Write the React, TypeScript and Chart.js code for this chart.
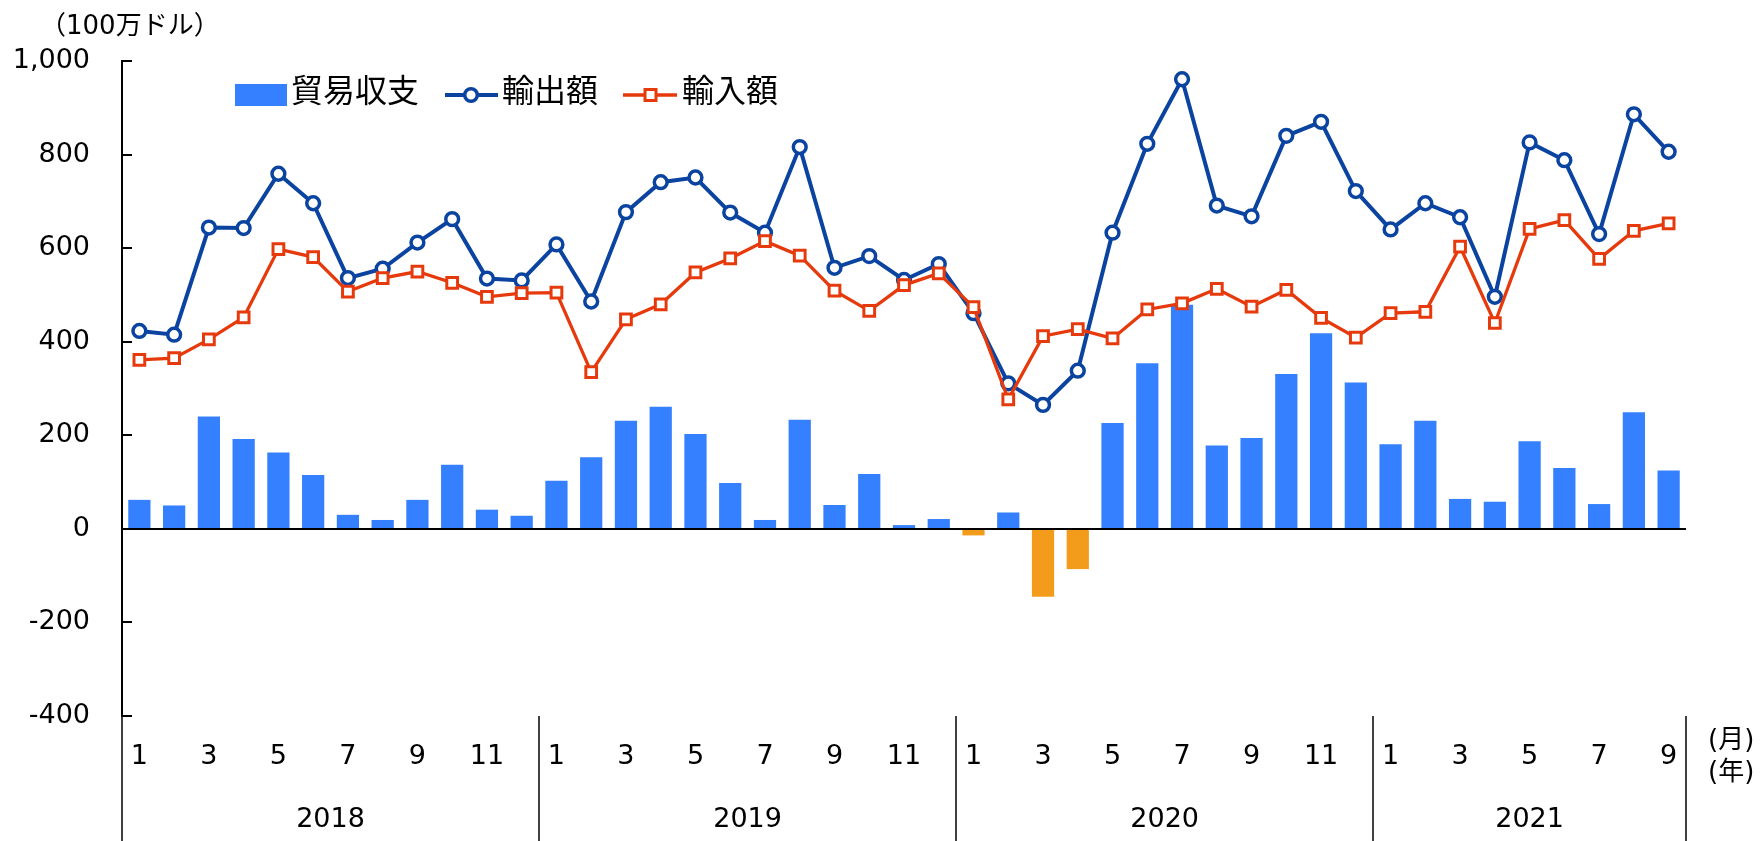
import React, { useEffect, useRef } from 'react';
import { Chart, registerables } from 'chart.js';

Chart.register(...registerables);

const FONT = "'DejaVu Sans', 'Noto Sans CJK JP', sans-serif";
const JP_FONT = "'Noto Sans CJK JP', 'Noto Sans', sans-serif";

const categories = [
  '2018-01', '2018-02', '2018-03', '2018-04', '2018-05', '2018-06', '2018-07', '2018-08', '2018-09', '2018-10', '2018-11', '2018-12',
  '2019-01', '2019-02', '2019-03', '2019-04', '2019-05', '2019-06', '2019-07', '2019-08', '2019-09', '2019-10', '2019-11', '2019-12',
  '2020-01', '2020-02', '2020-03', '2020-04', '2020-05', '2020-06', '2020-07', '2020-08', '2020-09', '2020-10', '2020-11', '2020-12',
  '2021-01', '2021-02', '2021-03', '2021-04', '2021-05', '2021-06', '2021-07', '2021-08', '2021-09',
];

const monthTickLabels = [
  '1', '', '3', '', '5', '', '7', '', '9', '', '11', '',
  '1', '', '3', '', '5', '', '7', '', '9', '', '11', '',
  '1', '', '3', '', '5', '', '7', '', '9', '', '11', '',
  '1', '', '3', '', '5', '', '7', '', '9',
];

const yearLabels = ['2018', '2019', '2020', '2021'];
const yearStartIndex = [0, 12, 24, 36];

const yTickValues = [-400, -200, 0, 200, 400, 600, 800, 1000];
const yTickTexts = ['-400', '-200', '0', '200', '400', '600', '800', '1,000'];

const tradeBalance = [
  62, 50, 240, 192, 163, 115, 30, 19, 62, 137, 41, 28,
  103, 153, 231, 261, 203, 98, 19, 233, 51, 117, 8, 21,
  -14, 35, -145, -86, 226, 354, 479, 178, 194, 331, 418, 313,
  181, 231, 64, 58, 187, 130, 53, 249, 125,
];

const exportValues = [
  423, 415, 644, 643, 759, 696, 536, 556, 612, 662, 535, 531,
  608, 486, 677, 741, 751, 676, 633, 816, 558, 583, 532, 566,
  461, 311, 265, 338, 633, 823, 961, 691, 668, 840, 870, 722,
  640, 696, 666, 496, 826, 788, 630, 886, 806,
];

const importValues = [
  361, 365, 405, 452, 598, 581, 507, 536, 550, 526, 496, 504,
  505, 335, 448, 480, 548, 578, 615, 584, 509, 466, 521, 546,
  474, 277, 412, 427, 407, 469, 482, 513, 475, 511, 451, 409,
  461, 464, 603, 440, 641, 660, 577, 637, 653,
];

const seriesNames = ['貿易収支', '輸出額', '輸入額'];
const unitLabel = '（100万ドル）';
const monthUnit = '(月)';
const yearUnit = '(年)';

const BAR_POS = '#3480FF';
const BAR_NEG = '#F39C1B';
const EXPORT_COLOR = '#0A44A0';
const IMPORT_COLOR = '#E63A0C';

const decorPlugin = {
  id: 'decor',
  afterDatasetsDraw(chart: any) {
    const { ctx, chartArea: area } = chart;
    const y = chart.scales.y;
    ctx.save();
    ctx.strokeStyle = '#000';
    ctx.lineWidth = 2;
    const y0 = Math.round(y.getPixelForValue(0));
    ctx.beginPath();
    ctx.moveTo(area.left, y0);
    ctx.lineTo(area.right, y0);
    ctx.stroke();
    ctx.restore();
  },
  afterDraw(chart: any) {
    const { ctx, chartArea: area } = chart;
    const x = chart.scales.x;
    const y = chart.scales.y;
    const H = chart.height;
    ctx.save();
    ctx.strokeStyle = '#000';
    ctx.fillStyle = '#000';

    // inner y ticks
    ctx.lineWidth = 2;
    y.ticks.forEach((t: any) => {
      const py = Math.round(y.getPixelForValue(t.value));
      ctx.beginPath();
      ctx.moveTo(area.left, py);
      ctx.lineTo(area.left + 10, py);
      ctx.stroke();
    });

    // category geometry
    const half = (x.getPixelForValue(1) - x.getPixelForValue(0)) / 2;
    const leftEdge = (i: number) => x.getPixelForValue(i) - half;
    const rightEdge = (i: number) => x.getPixelForValue(i) + half;

    // vertical separators below the plot
    ctx.lineWidth = 1.5;
    const seps = [...yearStartIndex.map((i) => leftEdge(i)), rightEdge(categories.length - 1)];
    seps.forEach((sx) => {
      ctx.beginPath();
      ctx.moveTo(Math.round(sx), area.bottom);
      ctx.lineTo(Math.round(sx), H);
      ctx.stroke();
    });

    // month labels
    ctx.font = `27px ${FONT}`;
    ctx.textAlign = 'center';
    ctx.textBaseline = 'middle';
    monthTickLabels.forEach((lab, i) => {
      if (lab) ctx.fillText(lab, x.getPixelForValue(i), 757);
    });

    // year labels
    yearLabels.forEach((lab, k) => {
      const s = yearStartIndex[k];
      const e = k + 1 < yearStartIndex.length ? yearStartIndex[k + 1] - 1 : categories.length - 1;
      const cx = (leftEdge(s) + rightEdge(e)) / 2;
      ctx.fillText(lab, cx, 820);
    });

    // unit labels right
    ctx.textAlign = 'left';
    ctx.font = `26px ${FONT}`;
    ctx.fillText(monthUnit, 1708, 741);
    ctx.fillText(yearUnit, 1708, 773);

    // y unit label
    ctx.font = `26px ${FONT}`;
    ctx.fillText(unitLabel, 40, 27);

    // legend
    const ly = 95;
    ctx.font = `32px ${JP_FONT}`;
    ctx.textBaseline = 'middle';
    ctx.fillStyle = BAR_POS;
    ctx.fillRect(235, 84, 52, 22);
    ctx.fillStyle = '#000';
    ctx.fillText(seriesNames[0], 291, 90);

    // export legend
    ctx.strokeStyle = EXPORT_COLOR;
    ctx.lineWidth = 4;
    ctx.beginPath();
    ctx.moveTo(445, ly);
    ctx.lineTo(498, ly);
    ctx.stroke();
    ctx.fillStyle = '#fff';
    ctx.lineWidth = 3.5;
    ctx.beginPath();
    ctx.arc(471, ly, 6.3, 0, Math.PI * 2);
    ctx.fill();
    ctx.stroke();
    ctx.fillStyle = '#000';
    ctx.fillText(seriesNames[1], 502, 90);

    // import legend
    ctx.strokeStyle = IMPORT_COLOR;
    ctx.lineWidth = 3.3;
    ctx.beginPath();
    ctx.moveTo(623, ly);
    ctx.lineTo(677, ly);
    ctx.stroke();
    ctx.fillStyle = '#fff';
    ctx.lineWidth = 3;
    ctx.fillRect(645, ly - 5.5, 11, 11);
    ctx.strokeRect(645, ly - 5.5, 11, 11);
    ctx.fillStyle = '#000';
    ctx.fillText(seriesNames[2], 682, 90);

    ctx.restore();
  },
};

export default function App() {
  const canvasRef = useRef<HTMLCanvasElement | null>(null);

  useEffect(() => {
    const canvas = canvasRef.current;
    if (!canvas) return;
    const chart = new Chart(canvas, {
      type: 'bar',
      data: {
        labels: categories,
        datasets: [
          {
            type: 'line',
            label: seriesNames[2],
            data: importValues,
            borderColor: IMPORT_COLOR,
            borderWidth: 3.3,
            backgroundColor: '#fff',
            pointStyle: 'rect',
            pointRadius: 7.6,
            pointBorderWidth: 3,
            pointBackgroundColor: '#fff',
            pointBorderColor: IMPORT_COLOR,
            tension: 0,
            order: 0,
          } as any,
          {
            type: 'line',
            label: seriesNames[1],
            data: exportValues,
            borderColor: EXPORT_COLOR,
            borderWidth: 4,
            backgroundColor: '#fff',
            pointStyle: 'circle',
            pointRadius: 6.4,
            pointBorderWidth: 3.5,
            pointBackgroundColor: '#fff',
            pointBorderColor: EXPORT_COLOR,
            tension: 0,
            order: 1,
          } as any,
          {
            type: 'bar',
            label: seriesNames[0],
            data: tradeBalance,
            backgroundColor: tradeBalance.map((v) => (v < 0 ? BAR_NEG : BAR_POS)),
            borderWidth: 0,
            categoryPercentage: 1,
            barPercentage: 0.64,
            order: 2,
          } as any,
        ],
      },
      options: {
        responsive: false,
        animation: false,
        devicePixelRatio: 1,
        layout: { padding: { left: 0, right: 74, top: 61, bottom: 0 } },
        plugins: {
          legend: { display: false },
          tooltip: { enabled: false },
          title: { display: false },
        },
        scales: {
          x: {
            type: 'category',
            offset: true,
            grid: { display: false, drawTicks: false },
            border: { display: false },
            ticks: { display: false },
            afterFit: (scale: any) => {
              scale.height = 125;
            },
          },
          y: {
            type: 'linear',
            min: -400,
            max: 1000,
            grid: { display: false, drawTicks: false },
            border: { display: true, color: '#000', width: 2 },
            ticks: {
              stepSize: 200,
              padding: 32,
              color: '#000',
              font: { size: 27, family: FONT },
              callback: (v: any) => {
                const i = yTickValues.indexOf(Number(v));
                return i >= 0 ? yTickTexts[i] : String(v);
              },
            },
            afterFit: (scale: any) => {
              scale.width = 122;
            },
          },
        },
      },
      plugins: [decorPlugin],
    });
    return () => chart.destroy();
  }, []);

  return (
    <div style={{ position: 'fixed', left: 0, top: 0, width: 1760, height: 841, background: '#fff' }}>
      <canvas ref={canvasRef} width={1760} height={841} style={{ display: 'block' }} />
    </div>
  );
}
